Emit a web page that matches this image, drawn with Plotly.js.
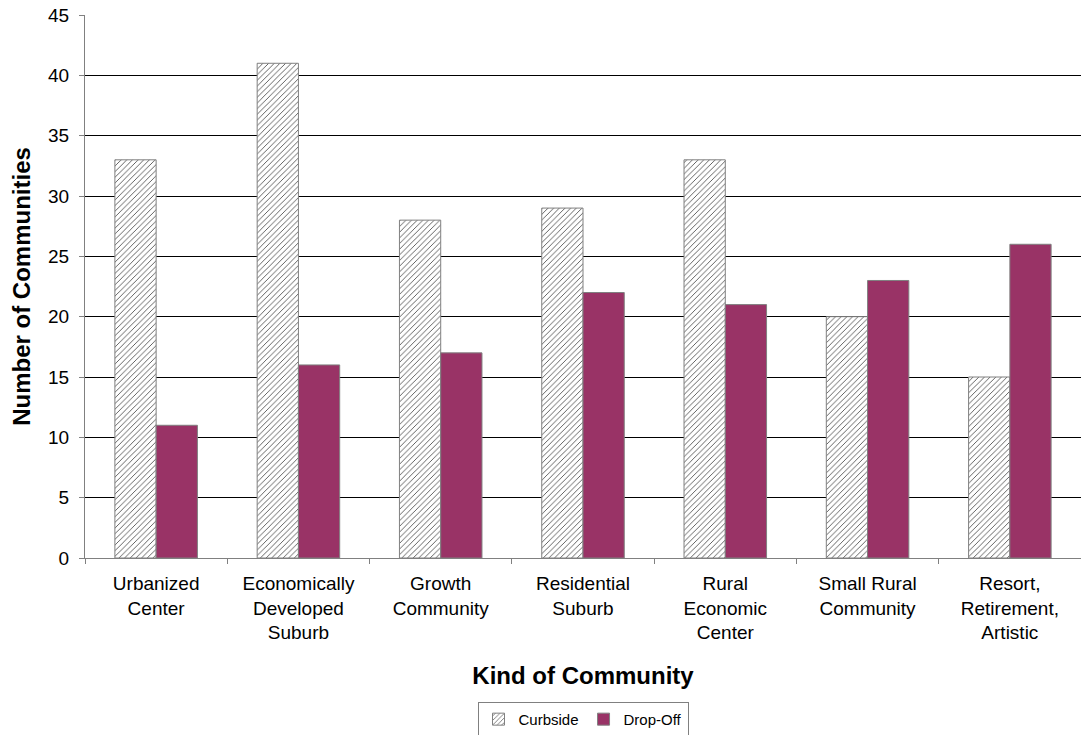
<!DOCTYPE html>
<html><head><meta charset="utf-8">
<script src="https://cdn.plot.ly/plotly-3.0.1.min.js"></script>
<style>html,body{margin:0;padding:0;background:#fff}</style>
</head><body>
<div id="chart" style="width:1081px;height:735px"></div>
<script>
var categories = ["Urbanized<br>Center", "Economically<br>Developed<br>Suburb", "Growth<br>Community", "Residential<br>Suburb", "Rural<br>Economic<br>Center", "Small Rural<br>Community", "Resort,<br>Retirement,<br>Artistic"];
var curbside = [33, 41, 28, 29, 33, 20, 15];
var dropOff = [11, 16, 17, 22, 21, 23, 26];
var yTicks = [0, 5, 10, 15, 20, 25, 30, 35, 40, 45];

var traces = [
  {type: 'bar', name: 'Curbside', x: categories, y: curbside,
   marker: {color: '#ffffff', line: {color: '#808080', width: 1},
            pattern: {shape: '/', fgcolor: '#505050', bgcolor: '#ffffff', size: 4, solidity: 0.22}}},
  {type: 'bar', name: 'Drop-Off', x: categories, y: dropOff,
   marker: {color: '#993366', line: {color: '#808080', width: 1}}}
];
var layout = {
  width: 1081, height: 735,
  margin: {l: 85, r: 0, t: 15, b: 177, autoexpand: false},
  paper_bgcolor: '#ffffff', plot_bgcolor: '#ffffff',
  font: {family: 'Liberation Sans, Arial, sans-serif', size: 18, color: '#000'},
  barmode: 'group', bargap: 0.42, bargroupgap: 0,
  showlegend: true,
  legend: {orientation: 'h', x: 0.5, xanchor: 'center', y: -0.265, yanchor: 'top',
           bordercolor: '#808080', borderwidth: 1, font: {size: 15}, traceorder: 'normal',
           itemwidth: 30, tracegroupgap: 0},
  xaxis: {type: 'category', showline: true, linecolor: '#808080', linewidth: 1,
          ticks: 'outside', tickson: 'boundaries', ticklen: 5, tickcolor: '#808080',
          showgrid: false, tickfont: {size: 19}, ticklabelstandoff: 8,
          title: {text: '<b>Kind of Community</b>', font: {size: 24}, standoff: 24}},
  yaxis: {range: [0, 45], tickvals: yTicks, showline: true, linecolor: '#808080', linewidth: 1,
          ticks: 'outside', ticklen: 5, tickcolor: '#808080',
          showgrid: true, gridcolor: '#000000', gridwidth: 1, zeroline: false,
          tickfont: {size: 19}, ticklabelstandoff: 6,
          title: {text: '<b>Number of Communities</b>', font: {size: 24}, standoff: 10}}
};
Plotly.newPlot('chart', traces, layout, {displayModeBar: false});
</script>
</body></html>
